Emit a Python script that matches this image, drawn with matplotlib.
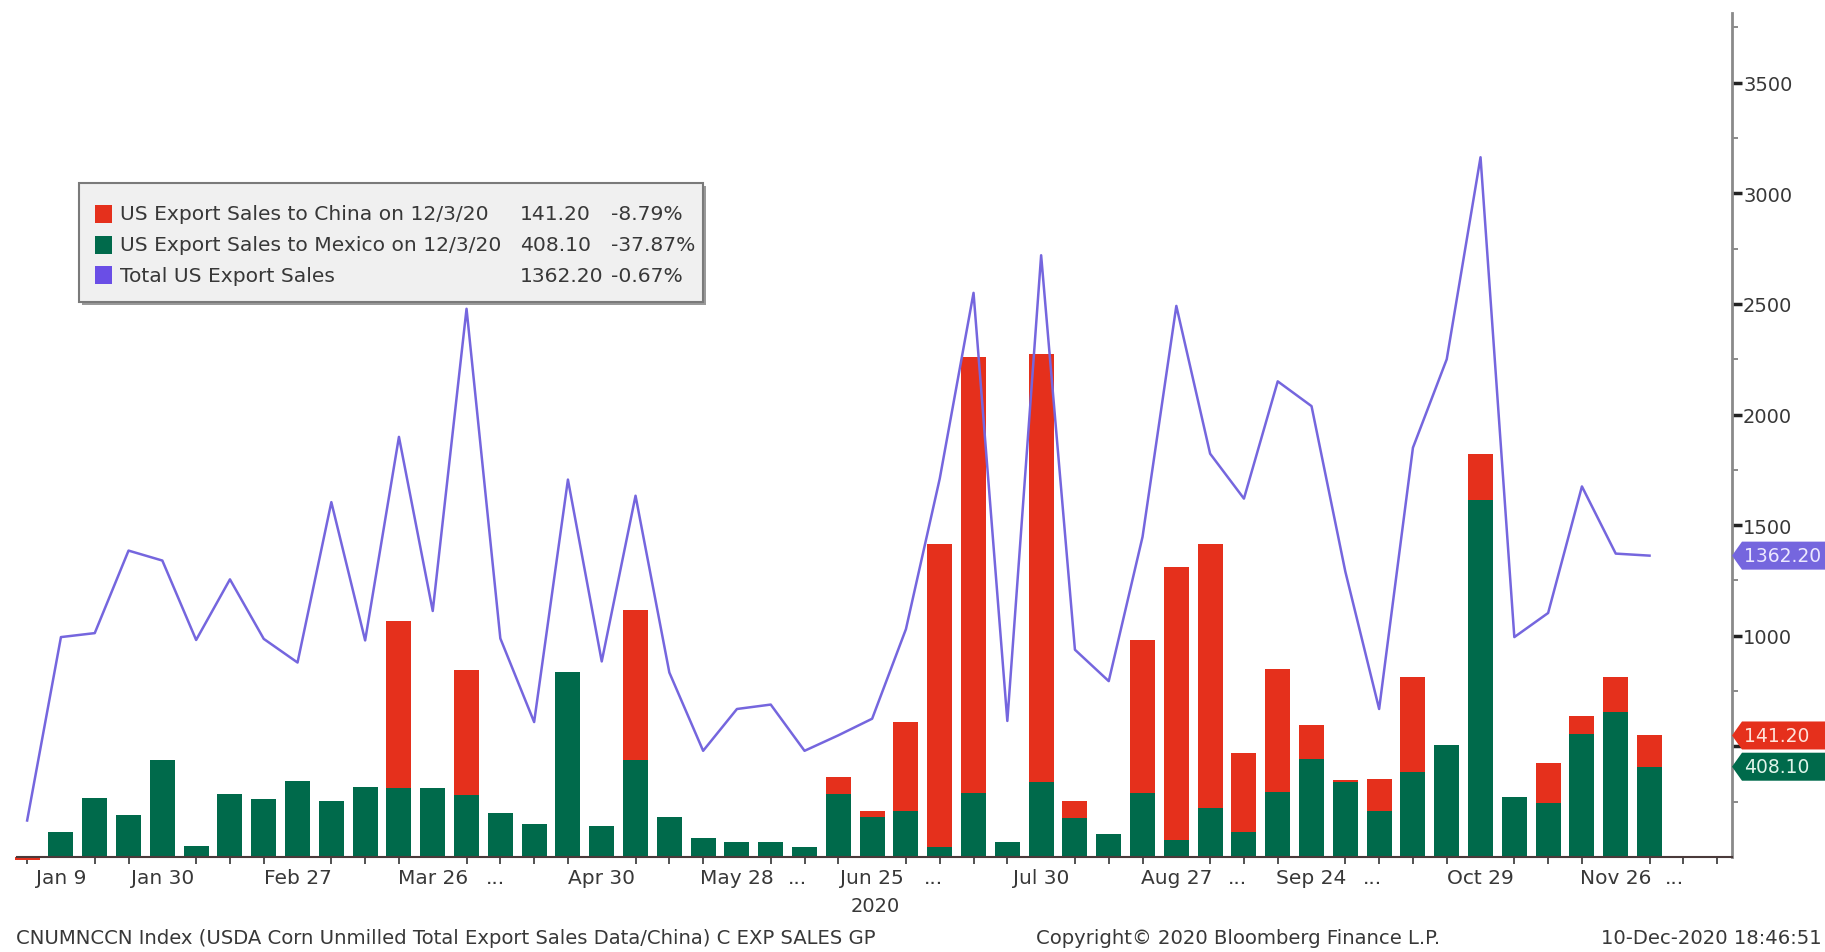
import matplotlib
matplotlib.use("Agg")
import matplotlib.pyplot as plt
import matplotlib.transforms as mtransforms
from matplotlib.patches import Polygon, Rectangle
import numpy as np

plt.rcParams["font.family"] = ["DejaVu Sans"]

# weekly report dates, 2020
weeks = ["Jan 2", "Jan 9", "Jan 16", "Jan 23", "Jan 30", "Feb 6", "Feb 13", "Feb 20", "Feb 27",
         "Mar 5", "Mar 12", "Mar 19", "Mar 26", "Apr 2", "Apr 9", "Apr 16", "Apr 23", "Apr 30",
         "May 7", "May 14", "May 21", "May 28", "Jun 4", "Jun 11", "Jun 18", "Jun 25",
         "Jul 2", "Jul 9", "Jul 16", "Jul 23", "Jul 30", "Aug 6", "Aug 13", "Aug 20", "Aug 27",
         "Sep 3", "Sep 10", "Sep 17", "Sep 24", "Oct 1", "Oct 8", "Oct 15", "Oct 22", "Oct 29",
         "Nov 5", "Nov 12", "Nov 19", "Nov 26", "Dec 3"]

# export sales, thousand tonnes
mexico = [0, 113, 267, 191, 437, 48, 286, 260, 345, 251, 318, 310, 311, 280, 200, 151, 838, 139,
          437, 180, 87, 69, 69, 44, 286, 182, 207, 45, 288, 67, 339, 177, 106, 288, 75,
          220, 111, 295, 442, 338, 207, 384, 506, 1614, 271, 246, 557, 656.8, 408.1]
china = [-12, 0, 0, 0, 0, 0, 0, 0, 0, 0, 0, 756, 0, 566, 0, 0, 0, 0,
         680, 0, 0, 0, 0, 0, 76, 26, 405, 1369, 1971, 0, 1936, 75, 0, 695, 1238,
         1194, 357, 554, 156, 12, 145, 431, 0, 208, 0, 180, 80, 154.8, 141.2]
total = [165, 994, 1012, 1385, 1340, 981, 1255, 986, 879, 1604, 979, 1899, 1112, 2478, 988, 610,
         1706, 884, 1633, 834, 480, 669, 689, 480, 550, 625, 1030, 1710, 2550, 615, 2720, 937,
         795, 1447, 2491, 1823, 1620, 2150, 2038, 1290, 669, 1850, 2250, 3163, 994, 1103, 1675,
         1371.4, 1362.2]

tick_labels = ["Jan 9", "Jan 30", "Feb 27", "Mar 26", "Apr 30", "May 28", "Jun 25",
               "Jul 30", "Aug 27", "Sep 24", "Oct 29", "Nov 26"]
gap_positions = [13.85, 22.8, 26.8, 35.8, 39.8, 48.75]

legend_rows = [("US Export Sales to China on 12/3/20", "141.20", "-8.79%"),
               ("US Export Sales to Mexico on 12/3/20", "408.10", "-37.87%"),
               ("Total US Export Sales", "1362.20", "-0.67%")]

# last values shown in the axis tags
last_total, last_china, last_mexico = 1362.20, 141.20, 408.10

RED = "#e5301c"
GREEN = "#006a4b"
PURPLE = "#7566de"
TXT = "#383838"

W, H = 1825, 953
fig = plt.figure(figsize=(W / 100, H / 100), dpi=100)
fig.patch.set_facecolor("white")

left, right, bottom, top = 17, 1732, 858, 14
ax = fig.add_axes([left / W, 1 - bottom / H, (right - left) / W, (bottom - top) / H])

x = np.arange(len(weeks))
china_arr = np.array(china)
base = np.where(china_arr < 0, 0, np.array(mexico))
ax.bar(x, mexico, width=0.74, color=GREEN, zorder=2)
ax.bar(x, china, bottom=base, width=0.74, color=RED, zorder=2, clip_on=False)
ax.plot(x, total, color=PURPLE, lw=1.8, zorder=3)

ax.set_xlim(-0.3, 50.44)
ax.set_ylim(0, 3815)

for s in ["left", "top"]:
    ax.spines[s].set_visible(False)
ax.spines["right"].set_color("#8a8a8a")
ax.spines["right"].set_linewidth(2)
ax.spines["bottom"].set_color("#4a3a3a")
ax.spines["bottom"].set_linewidth(1.5)

ax.yaxis.tick_right()
ax.set_yticks(np.arange(500, 3501, 500))
ax.set_yticklabels([""] + [str(v) for v in range(1000, 3501, 500)])
ax.set_yticks(np.arange(250, 3800, 500), minor=True)
ax.tick_params(axis="y", which="major", direction="out", length=7, width=2.5,
               color="#222222", labelsize=14, labelcolor=TXT, pad=1)
ax.tick_params(axis="y", which="minor", direction="out", length=4, width=1.2, color="#777777")

# week ticks on every bar, labels only on selected weeks
label_pos = [weeks.index(lbl) for lbl in tick_labels]
ax.set_xticks(np.arange(0, 51), minor=True)
ax.set_xticks(label_pos + gap_positions)
ax.set_xticklabels(tick_labels + ["..."] * len(gap_positions))
ax.tick_params(axis="x", which="major", length=0, labelsize=14.5, labelcolor=TXT, pad=8)
ax.tick_params(axis="x", which="minor", length=5, width=1.2, color="#333333")

# year under the x labels
ax.text(25.1, -0.058, "2020", transform=mtransforms.blended_transform_factory(ax.transData, ax.transAxes),
        ha="center", va="center", fontsize=14, color=TXT)

# last value tags on the right axis
px_per_unit = (bottom - top) / 3815
half_h = 14 / px_per_unit
tip = 10 / (right - left)
tag_tr = mtransforms.blended_transform_factory(ax.transAxes, ax.transData)
tags = [(last_total, last_total, PURPLE, "#ece8ff"),
        (last_mexico + last_china, last_china, RED, "#ffe2da"),
        (last_mexico, last_mexico, GREEN, "#e0f5ea")]
for ypos, val, col, fg in tags:
    poly = Polygon([[1.0, ypos], [1.0 + tip, ypos + half_h], [1.07, ypos + half_h],
                    [1.07, ypos - half_h], [1.0 + tip, ypos - half_h]],
                   closed=True, transform=tag_tr, facecolor=col, edgecolor="none", clip_on=False, zorder=5)
    ax.add_patch(poly)
    ax.text(1.0 + 12 / (right - left), ypos, f"{val:.2f}", transform=tag_tr, ha="left", va="center",
            fontsize=13.5, color=fg, clip_on=False, zorder=6)

# legend box
lx0, lx1, ly0, ly1 = 79, 703, 184, 303
fig.patches.append(Rectangle(((lx0 + 3) / W, 1 - (ly1 + 3) / H), (lx1 - lx0) / W, (ly1 - ly0) / H,
                             transform=fig.transFigure, facecolor="#9a9a9a", edgecolor="none", zorder=9))
fig.patches.append(Rectangle((lx0 / W, 1 - ly1 / H), (lx1 - lx0) / W, (ly1 - ly0) / H,
                             transform=fig.transFigure, facecolor="#f0f0f0", edgecolor="#7a7a7a",
                             lw=1.5, zorder=10))
row_y = [215, 246, 276]
for (name, val, pct), ry, col in zip(legend_rows, row_y, [RED, GREEN, "#6a4ee6"]):
    fig.patches.append(Rectangle((95 / W, 1 - (ry + 9) / H), 17 / W, 18 / H, transform=fig.transFigure,
                                 facecolor=col, edgecolor="none", zorder=11))
    fig.text(120 / W, 1 - ry / H, name, ha="left", va="center", fontsize=14.6, color=TXT, zorder=12)
    fig.text(520 / W, 1 - ry / H, val, ha="left", va="center", fontsize=14.6, color=TXT, zorder=12)
    fig.text(611 / W, 1 - ry / H, pct, ha="left", va="center", fontsize=14.6, color=TXT, zorder=12)

# footer
fig.text(16 / W, 1 - 939 / H, "CNUMNCCN Index (USDA Corn Unmilled Total Export Sales Data/China) C EXP SALES GP",
         ha="left", va="center", fontsize=14.1, color=TXT)
fig.text(1036 / W, 1 - 939 / H, "Copyright\u00a9 2020 Bloomberg Finance L.P.",
         ha="left", va="center", fontsize=14.1, color=TXT)
fig.text(1822 / W, 1 - 939 / H, "10-Dec-2020 18:46:51", ha="right", va="center", fontsize=14.1, color=TXT)

fig.savefig("out.png", dpi=100, facecolor="white")
